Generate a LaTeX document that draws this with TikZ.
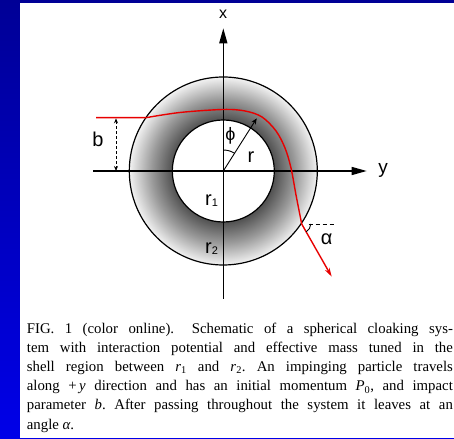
\documentclass[tikz,border=0pt]{standalone}
\usepackage{fontspec}
\setmainfont{Liberation Serif}
\newfontfamily\figfont{Liberation Sans}
\usetikzlibrary{arrows.meta}
\definecolor{bluetop}{RGB}{0,0,150}
\definecolor{bluebot}{RGB}{0,0,232}
\definecolor{pathred}{RGB}{232,0,0}
\pgfdeclareradialshading{shellshade}{\pgfpoint{0bp}{0bp}}{color(0bp)=(black!68); color(13.6bp)=(black!68); color(19bp)=(black!40); color(25bp)=(black!5); color(50bp)=(black!5)}
\frenchspacing
\begin{document}
\begin{tikzpicture}[x=1pt,y=1pt,
  lbl/.style={font=\figfont\fontsize{#1}{#1}\selectfont, inner sep=0pt},
  capline/.style={anchor=base west, inner sep=0pt, font=\fontsize{14.8}{17}\selectfont},
  axis/.style={line width=1.4pt, -{Triangle[length=15pt,width=8pt]}},
  ring/.style={line width=1.2pt},
  redpath/.style={pathred, line width=1.4pt, -{Stealth[length=9pt,width=5pt]}},
  thin/.style={line width=0.9pt}]
\useasboundingbox (0,0) rectangle (454,438);
\fill[top color=bluetop, bottom color=bluebot] (0,0) rectangle (454,438);
\fill[white] (20,0) rectangle (454,435);

\coordinate (C) at (223.3,267);
% shell
\path[shading=shellshade] (C) circle[radius=94];
\fill[white] (C) circle[radius=51];
\draw[ring] (C) circle[radius=94];
\draw[ring] (C) circle[radius=51];

% axes
\coordinate (xs) at (223.3,139);
\coordinate (xe) at (223.3,409.7);
\coordinate (ys) at (93.3,267);
\coordinate (ye) at (366.7,267);
\draw[axis] (xs) -- (xe);
\draw[axis] (ys) -- (ye);
\node[lbl=16] (xl) at (223,424) {x};
\node[lbl=19, anchor=base] (yl) at (383,264.5) {y};

% radius and phi
\coordinate (rt) at ([shift={(57.6:62.4)}]C);
\draw[thin, -{Stealth[length=6pt,width=5pt]}] (C) -- (rt);
\draw[thin] ([shift={(90:21)}]C) arc[start angle=90, end angle=57.6, radius=21];
\node[lbl=18] (phil) at (230.5,301.7) {ϕ};
\node[lbl=20, anchor=base] (rl) at (251,275.3) {r};
\node[lbl=20, anchor=base west] (r1l) at (205,232) {r\raisebox{-1pt}{\fontsize{11}{11}\selectfont 1}};
\node[lbl=20, anchor=base west] (r2l) at (205,184) {r\raisebox{-1pt}{\fontsize{11}{11}\selectfont 2}};

% impact parameter
\coordinate (bt) at (116,319.7);
\coordinate (bb) at (116,267);
\draw[thin, dashed, dash pattern=on 3pt off 2pt, {Stealth[length=5pt,width=4pt]}-{Stealth[length=5pt,width=4pt]}] (bt) -- (bb);
\node[lbl=20, anchor=base] (bl) at (98,291.3) {b};

% trajectory
\coordinate (rs) at (96,320.3);
\coordinate (rin) at (146,320.3);
\coordinate (rout) at (301.7,214);
\coordinate (rend) at (331.7,161.3);
\draw[redpath] (rs) -- (rin) -- plot[smooth, tension=0.55] coordinates {(146,320.3) (180,325.5) (223,328.5) (245,327) (262,321) (276,307) (285,290) (291,270) (296,243) (301.7,214)} -- (rend);

% exit angle
\draw[thin, dashed, dash pattern=on 4pt off 3pt] ([xshift=7pt]rout) -- ([xshift=33pt]rout);
\draw[thin] ([shift={(0:9)}]rout) arc[start angle=0, end angle=-60, radius=9];
\node[lbl=20] (al) at (326.7,198.7) {α};

% caption
\node[capline] (c1) at (26.7,104.7) {\makebox[426pt][s]{FIG. 1 (color online).\hspace{1.2em}Schematic of a spherical cloaking sys-}};
\node[capline] (c2) at (26.7,85.4) {\makebox[426pt][s]{tem with interaction potential and effective mass tuned in the}};
\node[capline] (c3) at (26.7,66.4) {\makebox[426pt][s]{shell region between \textit{r}\textsubscript{1} and \textit{r}\textsubscript{2}. An impinging particle travels}};
\node[capline] (c4) at (26.7,47) {\makebox[426pt][s]{along +\,\textit{y} direction and has an initial momentum \textit{P}\textsubscript{0}, and impact}};
\node[capline] (c5) at (26.7,28) {\makebox[426pt][s]{parameter \textit{b}. After passing throughout the system it leaves at an}};
\node[capline] (c6) at (26.7,9) {angle \textit{α}.};
\end{tikzpicture}
\end{document}
